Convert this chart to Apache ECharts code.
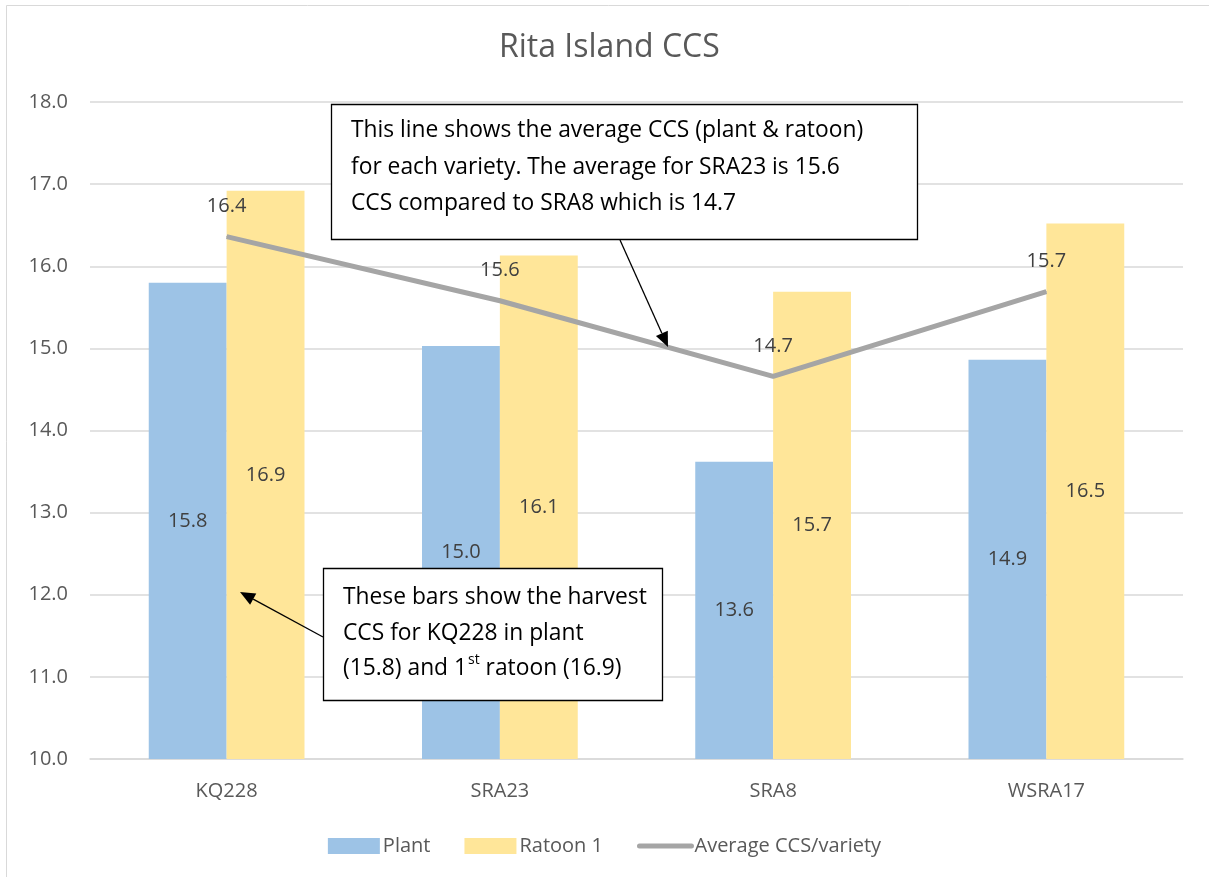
<!DOCTYPE html>
<html><head><meta charset="utf-8">
<script src="https://cdn.jsdelivr.net/npm/echarts@6/dist/echarts.min.js"></script>
<style>html,body{margin:0;padding:0;background:#fff}#c{width:1209px;height:877px}</style>
</head><body><div id="c"></div>
<script>
const categories = ['KQ228', 'SRA23', 'SRA8', 'WSRA17'];
const plant = [15.8, 15.03, 13.62, 14.86];
const ratoon = [16.92, 16.13, 15.69, 16.52];
const average = [16.36, 15.58, 14.66, 15.69];
const yTicks = { min: 10, max: 18, interval: 1 };

const FONT = "'Open Sans', sans-serif";
const chart = echarts.init(document.getElementById('c'), null, { renderer: 'canvas' });

function measure(text, size) {
  const cv = document.createElement('canvas').getContext('2d');
  cv.font = size + 'px ' + FONT;
  return cv.measureText(text).width;
}

function arrow(x1, y1, x2, y2) {
  const ang = Math.atan2(y2 - y1, x2 - x1);
  const L = 15, W = 6.5;
  const bx = x2 - L * Math.cos(ang), by = y2 - L * Math.sin(ang);
  const px = -Math.sin(ang), py = Math.cos(ang);
  return [
    { type: 'line', z: 100, shape: { x1: x1, y1: y1, x2: bx, y2: by }, style: { stroke: '#000', lineWidth: 1.3 } },
    { type: 'polygon', z: 100, shape: { points: [[x2, y2], [bx + px * W, by + py * W], [bx - px * W, by - py * W]] }, style: { fill: '#000' } }
  ];
}

const boxFont = 22.8;
function textLine(x, y, text, size) {
  return { type: 'text', z: 100, style: { x: x, y: y, text: text, font: (size || boxFont) + 'px ' + FONT, fill: '#000', verticalAlign: 'middle' } };
}
const line3a = '(15.8) and 1';
const supX = 343 + measure(line3a, boxFont);
const supW = measure('st', 14);

const graphics = [
  { type: 'rect', z: -10, silent: true, shape: { x: 6.5, y: 5.5, width: 1400, height: 1000 }, style: { fill: null, stroke: '#D9D9D9', lineWidth: 1 } },
  // callout 1
  { type: 'rect', z: 99, shape: { x: 331.5, y: 104.5, width: 586, height: 135 }, style: { fill: '#fff', stroke: '#000', lineWidth: 1.3 } },
  textLine(351, 131, 'This line shows the average CCS (plant & ratoon)'),
  textLine(351, 168, 'for each variety. The average for SRA23 is 15.6'),
  textLine(351, 204, 'CCS compared to SRA8 which is 14.7'),
  ...arrow(620, 240, 668, 347),
  // callout 2
  { type: 'rect', z: 99, shape: { x: 323.5, y: 568.5, width: 339, height: 132 }, style: { fill: '#fff', stroke: '#000', lineWidth: 1.3 } },
  textLine(343, 598, 'These bars show the harvest'),
  textLine(343, 634, 'CCS for KQ228 in plant'),
  textLine(343, 669, line3a),
  textLine(supX + 1, 660, 'st', 14),
  textLine(supX + supW + 1, 669, ' ratoon (16.9)'),
  ...arrow(323, 637, 240, 592)
];

const labelFmt = p => p.value.toFixed(1);

const option = {
  backgroundColor: '#fff',
  animation: false,
  textStyle: { fontFamily: FONT },
  title: {
    text: 'Rita Island CCS', left: 494, top: 27,
    textStyle: { fontFamily: FONT, fontSize: 32, fontWeight: 'normal', color: '#595959' }
  },
  legend: {
    bottom: 16, left: 'center', itemWidth: 52, itemHeight: 16, itemGap: 34,
    textStyle: { fontFamily: FONT, fontSize: 20, color: '#595959', padding: [0, 0, 0, -2] },
    data: [
      { name: 'Plant', icon: 'rect' },
      { name: 'Ratoon 1', icon: 'rect' },
      { name: 'Average CCS/variety', itemStyle: { opacity: 0 }, lineStyle: { width: 5, color: '#A5A5A5', cap: 'round' } }
    ]
  },
  grid: { left: 90, right: 26, top: 102, bottom: 118 },
  xAxis: {
    type: 'category', data: categories,
    axisLine: { lineStyle: { color: '#D9D9D9', width: 1.5 } },
    axisTick: { show: false },
    axisLabel: { color: '#595959', fontSize: 20, margin: 22, fontFamily: FONT }
  },
  yAxis: {
    type: 'value', min: yTicks.min, max: yTicks.max, interval: yTicks.interval,
    axisLine: { show: false }, axisTick: { show: false },
    axisLabel: { color: '#595959', fontSize: 20, margin: 22, fontFamily: FONT, formatter: v => v.toFixed(1) },
    splitLine: { lineStyle: { color: '#D9D9D9', width: 1.5 } }
  },
  series: [
    {
      name: 'Plant', type: 'bar', data: plant, barGap: '0%', barCategoryGap: '43%',
      itemStyle: { color: '#9DC3E6' },
      label: { show: true, position: 'inside', color: '#404040', fontSize: 20, fontFamily: FONT, formatter: labelFmt }
    },
    {
      name: 'Ratoon 1', type: 'bar', data: ratoon, barGap: '0%', barCategoryGap: '43%',
      itemStyle: { color: '#FFE699' },
      label: { show: true, position: 'inside', color: '#404040', fontSize: 20, fontFamily: FONT, formatter: labelFmt }
    },
    {
      name: 'Average CCS/variety', type: 'line', data: average, symbol: 'none', z: 5,
      lineStyle: { color: '#A5A5A5', width: 5 }, itemStyle: { color: '#A5A5A5' }
    },
    {
      name: 'avgLabels', type: 'scatter', data: average, symbolSize: 1, z: 6, silent: true,
      itemStyle: { color: '#A5A5A5', opacity: 1 },
      label: { show: true, position: 'top', distance: 20, color: '#404040', opacity: 1, fontSize: 20, fontFamily: FONT, formatter: labelFmt }
    }
  ],
  graphic: graphics
};
chart.setOption(option);
</script></body></html>
